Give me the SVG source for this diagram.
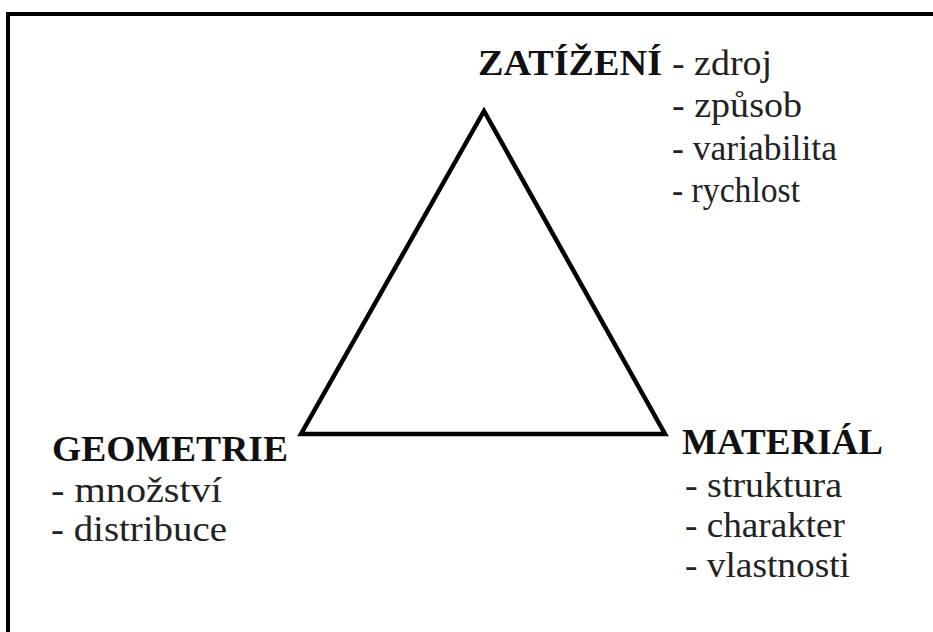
<svg xmlns="http://www.w3.org/2000/svg" width="933" height="632" viewBox="0 0 933 632">
<style>
.bg{fill:#ffffff}
.frame{fill:none;stroke:#000;stroke-width:4}
.edge{fill:none;stroke:#000;stroke-width:4.5;stroke-linejoin:miter}
.h{font-family:"Liberation Serif","Times New Roman",serif;font-weight:bold;font-size:35px;fill:#111}
.t{font-family:"Liberation Serif","Times New Roman",serif;font-size:36px;fill:#222}
</style>
<rect class="bg" x="0" y="0" width="933" height="632"/>
<path class="frame" d="M8,632 V14 H935"/>
<g id="connectors">
<polygon class="edge" points="484,111 301,434 665,434"/>
</g>
<g id="zatizeni">
<text class="h" x="478" y="75" textLength="184" lengthAdjust="spacingAndGlyphs">ZATÍŽENÍ</text>
<text class="t" x="672" y="75" textLength="100" lengthAdjust="spacingAndGlyphs">- zdroj</text>
<text class="t" x="672" y="117" textLength="130" lengthAdjust="spacingAndGlyphs">- způsob</text>
<text class="t" x="672" y="160" textLength="165" lengthAdjust="spacingAndGlyphs">- variabilita</text>
<text class="t" x="672" y="202" textLength="128" lengthAdjust="spacingAndGlyphs">- rychlost</text>
</g>
<g id="geometrie">
<text class="h" x="52" y="461" textLength="236" lengthAdjust="spacingAndGlyphs">GEOMETRIE</text>
<text class="t" x="51" y="502" textLength="171" lengthAdjust="spacingAndGlyphs">- množství</text>
<text class="t" x="51" y="541" textLength="176" lengthAdjust="spacingAndGlyphs">- distribuce</text>
</g>
<g id="material">
<text class="h" x="682" y="454" textLength="201" lengthAdjust="spacingAndGlyphs">MATERIÁL</text>
<text class="t" x="685" y="497" textLength="157" lengthAdjust="spacingAndGlyphs">- struktura</text>
<text class="t" x="685" y="537" textLength="160" lengthAdjust="spacingAndGlyphs">- charakter</text>
<text class="t" x="685" y="577" textLength="165" lengthAdjust="spacingAndGlyphs">- vlastnosti</text>
</g>
</svg>
